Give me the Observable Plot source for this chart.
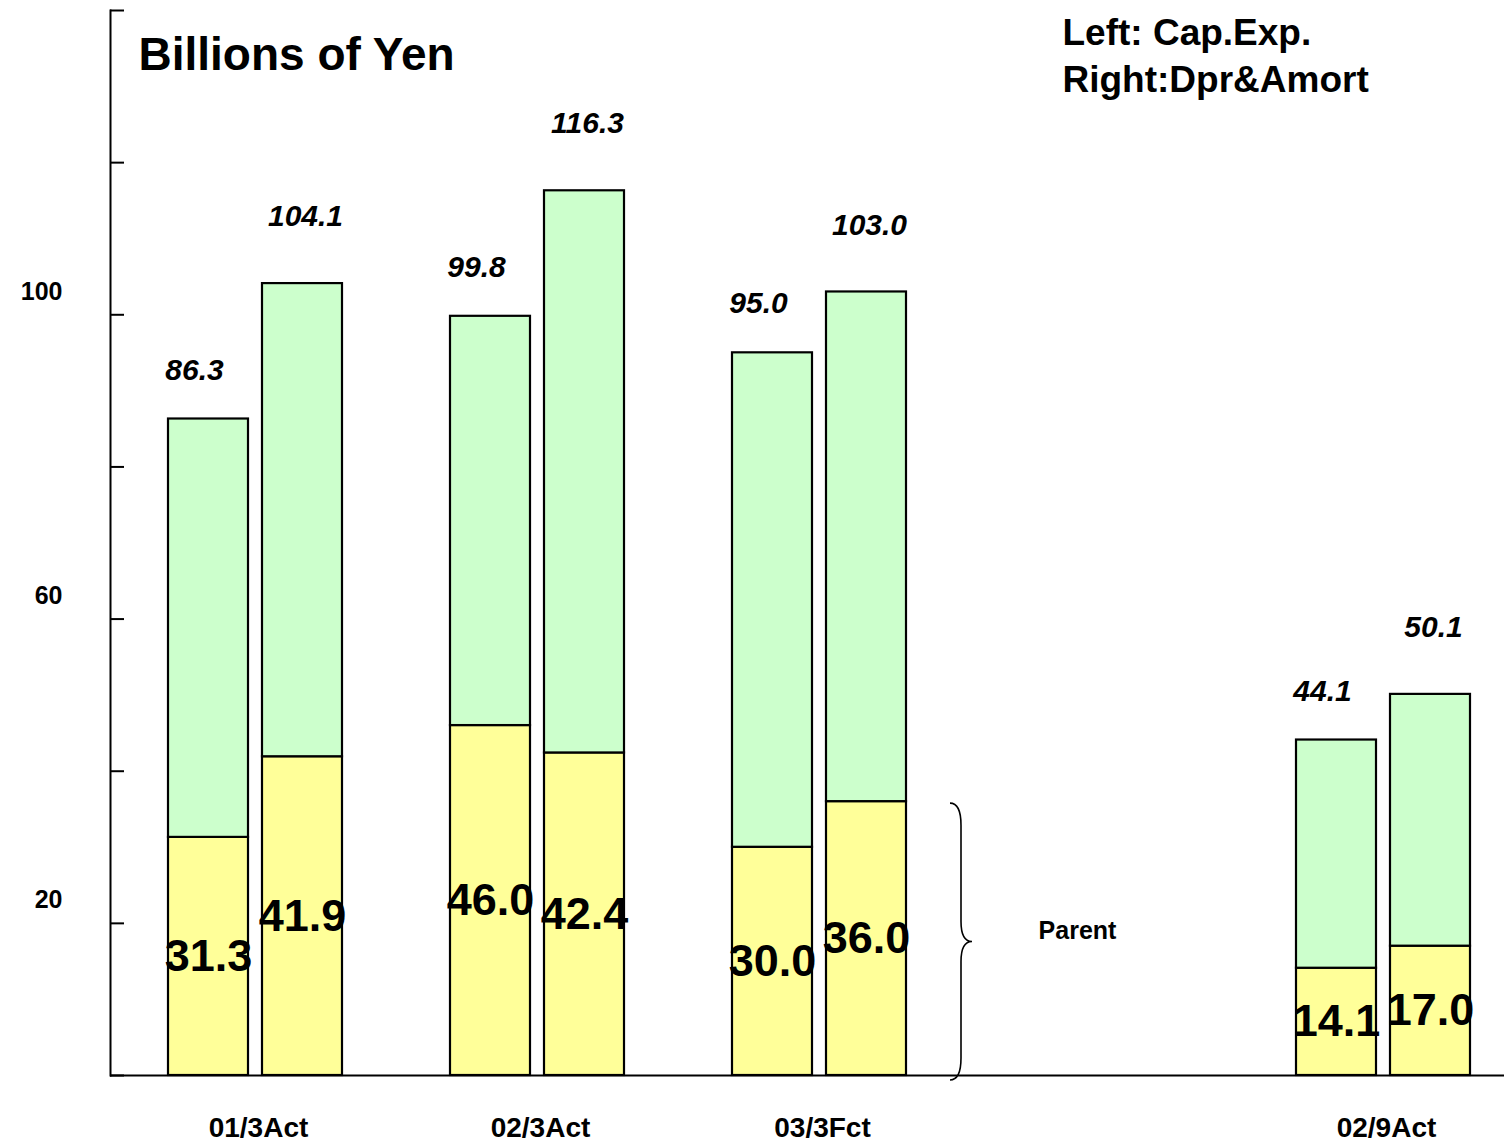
<!DOCTYPE html>
<html>
<head>
<meta charset="utf-8">
<script src="https://cdn.jsdelivr.net/npm/d3@7"></script>
<script src="https://cdn.jsdelivr.net/npm/@observablehq/plot@0.6"></script>
<style>
  html, body { margin: 0; padding: 0; background: #ffffff; }
  #chart svg { display: block; overflow: visible; }
</style>
</head>
<body>
<div id="chart"></div>
<script>
// ---- data ----
const groups = ["01/3Act", "02/3Act", "03/3Fct", "02/9Act"];
const parentSlot = "Parent";
const xSlots = ["01/3Act", "02/3Act", "03/3Fct", parentSlot, "02/9Act"];
const capExTotal = [86.3, 99.8, 95.0, 44.1];
const capExParent = [31.3, 46.0, 30.0, 14.1];
const dprTotal = [104.1, 116.3, 103.0, 50.1];
const dprParent = [41.9, 42.4, 36.0, 17.0];
const yTicks = [0, 20, 40, 60, 80, 100, 120, 140];
const yLabels = [20, 60, 100];
const titleText = "Billions of Yen";
const legendLines = ["Left: Cap.Exp.", "Right:Dpr&Amort"];
const parentLabel = "Parent";

// ---- tables ----
const capRows = groups.map((g, i) => ({group: g, parent: capExParent[i], total: capExTotal[i]}));
const dprRows = groups.map((g, i) => ({group: g, parent: dprParent[i], total: dprTotal[i]}));
const braceRow = [{group: parentSlot, top: dprParent[2]}];

const GREEN = "#CCFFCC", YELLOW = "#FFFF99";
const FONT = "'Liberation Sans', Arial, Helvetica, sans-serif";
const barStyle = {stroke: "black", strokeWidth: 2.2};
const leftInset = {insetLeft: 54, insetRight: 148};
const rightInset = {insetLeft: 148, insetRight: 54};

// brace annotation drawn from the scales
function braceMark(index, scales) {
  const x = scales.x(braceRow[0].group);
  const yT = scales.y(braceRow[0].top) + 2;
  const yB = scales.y(0) + 5;
  const yM = (yT + yB) / 2;
  const d = `M${x - 10},${yT} Q${x + 1},${yT} ${x + 1},${yT + 22} L${x + 1},${yM - 20} Q${x + 1},${yM} ${x + 12},${yM} Q${x + 1},${yM} ${x + 1},${yM + 20} L${x + 1},${yB - 22} Q${x + 1},${yB} ${x - 10},${yB}`;
  return d3.create("svg:path").attr("d", d).attr("fill", "none").attr("stroke", "black").attr("stroke-width", 1.6).node();
}

const chart = Plot.plot({
  width: 1504,
  height: 1147,
  marginLeft: 110,
  marginRight: 0,
  marginTop: 10,
  marginBottom: 72,
  style: {fontFamily: FONT, background: "white", color: "black"},
  x: {type: "band", domain: xSlots, range: [114, 1524], padding: 0, round: false, axis: null},
  y: {domain: [0, 140], axis: null},
  marks: [
    // bars: Cap.Exp. (left)
    Plot.barY(capRows, {x: "group", y1: 0, y2: "parent", fill: YELLOW, ...barStyle, ...leftInset}),
    Plot.barY(capRows, {x: "group", y1: "parent", y2: "total", fill: GREEN, ...barStyle, ...leftInset}),
    // bars: Dpr&Amort (right)
    Plot.barY(dprRows, {x: "group", y1: 0, y2: "parent", fill: YELLOW, ...barStyle, ...rightInset}),
    Plot.barY(dprRows, {x: "group", y1: "parent", y2: "total", fill: GREEN, ...barStyle, ...rightInset}),
    // axes lines
    Plot.ruleY([0], {stroke: "black", strokeWidth: 2}),
    Plot.frame({anchor: "left", stroke: "black", strokeWidth: 2}),
    Plot.tickY(yTicks, {y: d => d, stroke: "black", strokeWidth: 2, insetRight: 1504 - 110 - 14}),
    Plot.text(yLabels, {y: d => d, text: d => String(d), frameAnchor: "left", lineAnchor: "middle", dx: -48, dy: -23, textAnchor: "end", fontSize: 25, fontWeight: "bold"}),
    Plot.text(groups, {x: d => d, text: d => d, frameAnchor: "bottom", lineAnchor: "middle", dx: 3, dy: 53, fontSize: 28, fontWeight: "bold"}),
    // total labels
    Plot.text(capRows, {x: "group", y: "total", text: d => d.total.toFixed(1), dx: -61, dy: -49, fontSize: 30, fontWeight: "bold", fontStyle: "italic"}),
    Plot.text(dprRows, {x: "group", y: "total", text: d => d.total.toFixed(1), dx: 50, dy: -67, fontSize: 30, fontWeight: "bold", fontStyle: "italic"}),
    // parent labels
    Plot.text(capRows, {x: "group", y: d => d.parent / 2, text: d => d.parent.toFixed(1), dx: -47, fontSize: 45, fontWeight: "bold"}),
    Plot.text(dprRows, {x: "group", y: d => d.parent / 2, text: d => d.parent.toFixed(1), dx: 47, fontSize: 45, fontWeight: "bold"}),
    // brace + Parent label
    braceMark,
    Plot.text(braceRow, {x: "group", y: d => d.top / 2, text: () => parentLabel, dx: -24, dy: -8, fontSize: 25, fontWeight: "bold"}),
    // title & legend
    Plot.text([titleText], {text: d => d, frameAnchor: "top-left", lineAnchor: "middle", dx: 28, dy: 45, textAnchor: "start", fontSize: 46, fontWeight: "bold"}),
    Plot.text([legendLines.join("\n")], {text: d => d, frameAnchor: "top-left", lineAnchor: "top", dx: 952, dy: 1, lineHeight: 1.27, textAnchor: "start", fontSize: 37, fontWeight: "bold"})
  ]
});
document.getElementById("chart").appendChild(chart);
</script>
</body>
</html>
